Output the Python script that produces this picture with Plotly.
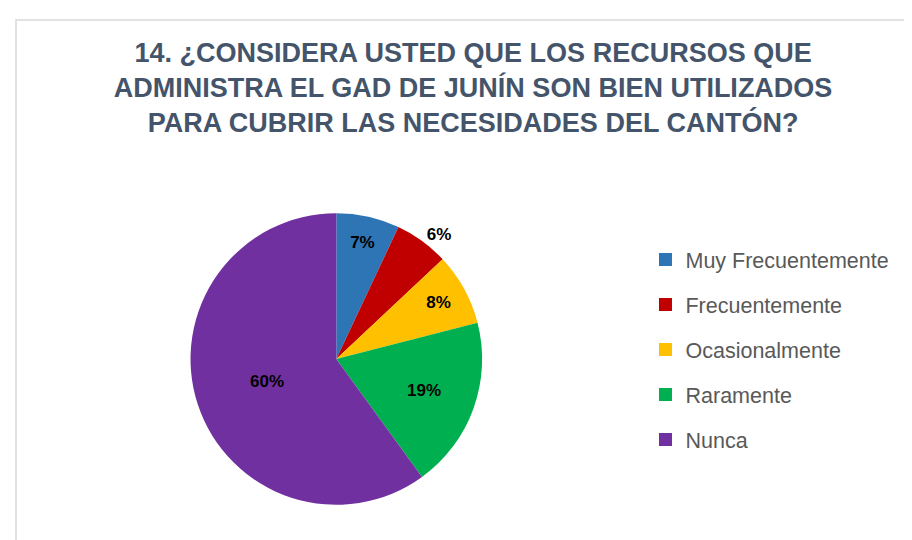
import plotly.graph_objects as go

categories = ["Muy Frecuentemente", "Frecuentemente", "Ocasionalmente", "Raramente", "Nunca"]
values = [7, 6, 8, 19, 60]
colors = ["#2E75B6", "#C00000", "#FFC000", "#00B050", "#7030A0"]
title_lines = ["14. ¿CONSIDERA USTED QUE LOS RECURSOS QUE",
               "ADMINISTRA EL GAD DE JUNÍN SON BIEN UTILIZADOS",
               "PARA CUBRIR LAS NECESIDADES DEL CANTÓN?"]

fig = go.Figure()
fig.add_trace(go.Pie(
    labels=categories, values=values, sort=False, direction="clockwise", rotation=0,
    marker=dict(colors=colors, line=dict(color="white", width=0)),
    textinfo="percent", texttemplate="<b>%{percent:.0%}</b>",
    textposition=["inside", "outside", "inside", "inside", "inside"],
    insidetextorientation="horizontal",
    textfont=dict(family="Liberation Sans", size=17, color="black"),
    outsidetextfont=dict(family="Liberation Sans", size=17, color="black"),
    showlegend=False,
    domain=dict(x=[0.19, 0.53], y=[0.08, 0.62]),
))

for i, (c, col) in enumerate(zip(categories, colors)):
    fig.add_trace(go.Scatter(
        x=[None], y=[None], mode="markers", name=c, legendgroup=str(i),
        marker=dict(symbol="square", size=13, color=col),
    ))

fig.update_layout(
    width=912, height=540,
    margin=dict(l=0, r=0, t=0, b=0),
    paper_bgcolor="white", plot_bgcolor="white",
    title=dict(text="<br>".join(f"<b>{t}</b>" for t in title_lines),
               x=0.51, xanchor="center", y=0.90, yanchor="top",
               font=dict(family="Liberation Sans", size=27, color="#44546A")),
    xaxis=dict(visible=False), yaxis=dict(visible=False),
    legend=dict(x=0.699, y=0.572, xanchor="left", yanchor="top",
                font=dict(family="Liberation Sans", size=21.5, color="#595959"),
                tracegroupgap=14, itemwidth=30, bgcolor="rgba(0,0,0,0)"),
    shapes=[dict(type="rect", xref="paper", yref="paper",
                 x0=8/912, y0=-0.02, x1=1.02, y1=1-12/540,
                 line=dict(color="#D9D9D9", width=1.5), fillcolor="rgba(0,0,0,0)")],
)

fig.write_html("out.html")
